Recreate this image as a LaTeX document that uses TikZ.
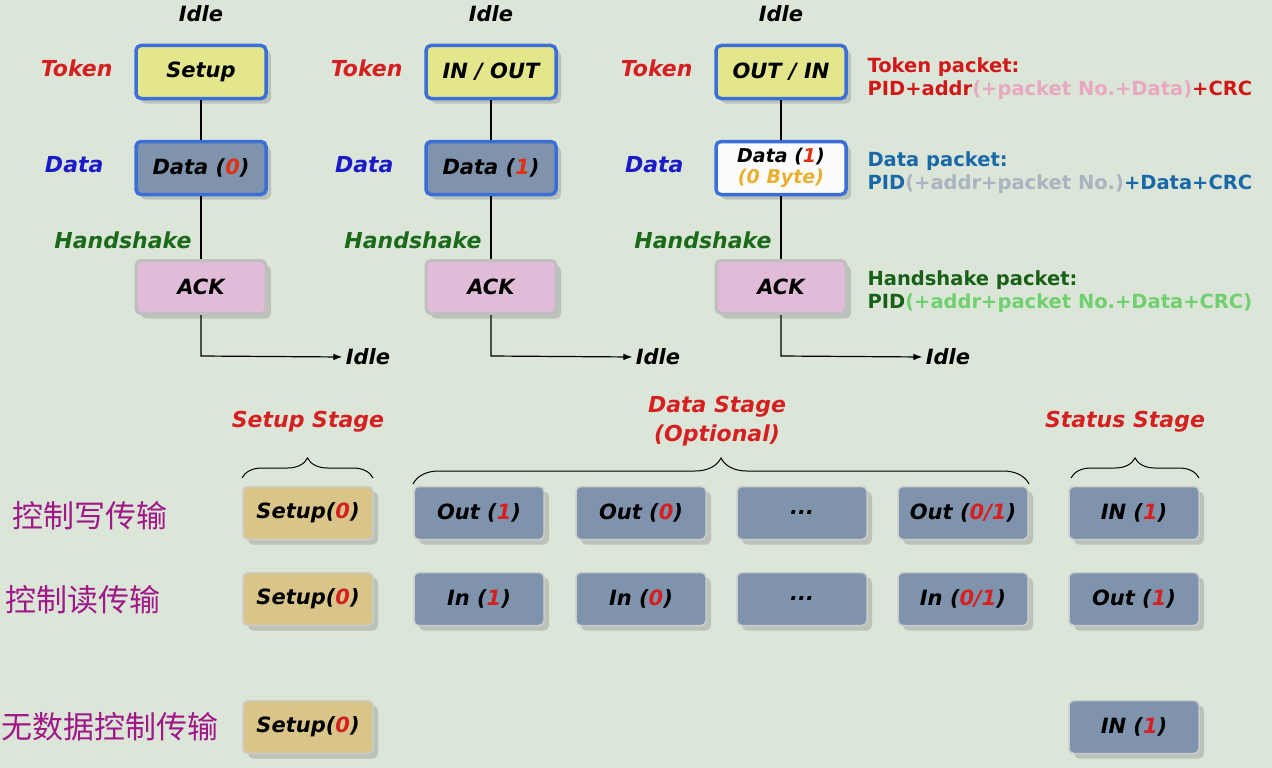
\documentclass[tikz,border=0pt]{standalone}
\usepackage{fontspec}
\setmainfont{DejaVu Sans}
\newfontfamily\cjk{Noto Sans CJK SC}
\usetikzlibrary{shadows,decorations.pathreplacing,arrows.meta}
\definecolor{bg}{HTML}{DCE6D8}
\definecolor{tokred}{HTML}{D42020}
\definecolor{datblue}{HTML}{1A1AC8}
\definecolor{hsgreen}{HTML}{1A6A1A}
\definecolor{bbord}{HTML}{3A6FD8}
\definecolor{yel}{HTML}{E4E68C}
\definecolor{bgray}{HTML}{7F93AD}
\definecolor{pink}{HTML}{E0BCD8}
\definecolor{tan}{HTML}{D9C48A}
\definecolor{pkred}{HTML}{D01818}
\definecolor{pkpink}{HTML}{E8A8C0}
\definecolor{pkblue}{HTML}{1A68A8}
\definecolor{pkgray}{HTML}{A8B4C0}
\definecolor{pkgreen}{HTML}{186018}
\definecolor{pklgreen}{HTML}{70D070}
\definecolor{num}{HTML}{E03010}
\definecolor{purp}{HTML}{A01888}
\definecolor{orng}{HTML}{E8B030}
\begin{document}
\begin{tikzpicture}[x=1pt,y=-1pt,
  every node/.style={font=\fontsize{21}{24}\selectfont\bfseries\itshape},
  box/.style={rounded corners=5pt,minimum width=130pt,minimum height=53pt,inner sep=0pt,
    drop shadow={shadow xshift=5pt,shadow yshift=-5pt,fill=gray,opacity=0.35}},
  tok/.style={box,fill=yel,draw=bbord,line width=3.5pt},
  dat/.style={box,fill=bgray,draw=bbord,line width=3.5pt},
  ack/.style={box,fill=pink,draw=gray!50,line width=3pt},
  sbox/.style={box,fill=tan,draw=gray!40,line width=1.5pt},
  gbox/.style={box,fill=bgray,draw=gray!40,line width=1.5pt},
  lab/.style={anchor=east,font=\fontsize{22}{24}\selectfont\bfseries\itshape},
  pk/.style={anchor=west,font=\fontsize{19.5}{23}\selectfont\bfseries},
  cj/.style={font=\fontsize{31}{34}\selectfont\cjk},
  st/.style={text=tokred,font=\fontsize{22}{24}\selectfont\bfseries\itshape,align=center},
  br/.style={decorate,decoration={brace,amplitude=12pt},line width=1pt}]
\useasboundingbox[fill=bg] (0,0) rectangle (1272,768);
\foreach \i/\tt/\dd in {0/Setup/0,1/{IN{ / }OUT}/1}{
  \begin{scope}[xshift=\i*290]
  \node (idle\i) at (201,14) {Idle};
  \node[lab,text=tokred] (tk\i) at (116,68) {Token};
  \node[lab,text=datblue] (dl\i) at (107,165) {Data};
  \node[lab,text=hsgreen] (hl\i) at (195,240) {Handshake};
  \node[tok] (t\i) at (201,72) {\tt};
  \node[dat] (d\i) at (201,168) {Data (\textcolor{num}{\dd})};
  \node[ack] (a\i) at (201,287) {ACK};
  \node (e\i) at (368,357) {Idle};
  \coordinate (c\i) at (201,356);
  \draw[line width=1.2pt] (t\i) -- (d\i) (d\i) -- (a\i);
  \draw[line width=1.2pt,-{Latex[length=9pt]}] (a\i) -- (c\i) -- (e\i.west);
  \end{scope}}
\begin{scope}[xshift=580]
  \node (idle2) at (201,14) {Idle};
  \node[lab,text=tokred] (tk2) at (116,68) {Token};
  \node[lab,text=datblue] (dl2) at (107,165) {Data};
  \node[lab,text=hsgreen] (hl2) at (195,240) {Handshake};
  \node[tok] (t2) at (201,72) {OUT / IN};
  \node[box,fill=white!90!bg,draw=bbord,line width=3.5pt,align=center,font=\fontsize{19}{23}\selectfont\bfseries\itshape] (d2) at (201,168) {Data (\textcolor{num}{1})\\[-2pt]\textcolor{orng}{(0 Byte)}};
  \node[ack] (a2) at (201,287) {ACK};
  \node (e2) at (368,357) {Idle};
  \coordinate (c2) at (201,356);
  \draw[line width=1.2pt] (t2) -- (d2) (d2) -- (a2);
  \draw[line width=1.2pt,-{Latex[length=9pt]}] (a2) -- (c2) -- (e2.west);
\end{scope}
\node[pk,align=left] (p1) at (864,79) {\textcolor{pkred}{Token packet:}\\\textcolor{pkred}{PID+addr}\textcolor{pkpink}{(+packet No.+Data)}\textcolor{pkred}{+CRC}};
\node[pk,align=left] (p2) at (864,173) {\textcolor{pkblue}{Data packet:}\\\textcolor{pkblue}{PID}\textcolor{pkgray}{(+addr+packet No.)}\textcolor{pkblue}{+Data+CRC}};
\node[pk,align=left] (p3) at (864,292) {\textcolor{pkgreen}{Handshake packet:}\\\textcolor{pkgreen}{PID}\textcolor{pklgreen}{(+addr+packet No.+Data+CRC)}};
% stages
\node[st] (s1) at (308,422) {Setup Stage};
\node[st,align=center,font=\fontsize{22}{29}\selectfont\bfseries\itshape] (s2) at (717,421) {Data Stage\\(Optional)};
\node[st] (s3) at (1125,422) {Status Stage};
\coordinate (b1l) at (242,478); \coordinate (b1r) at (373,478);
\coordinate (b2l) at (413,484); \coordinate (b2r) at (1029,484);
\coordinate (b3l) at (1071,478); \coordinate (b3r) at (1199,478);
\draw[br,decoration={amplitude=20pt}] (b1l) -- (b1r);
\draw[br,decoration={amplitude=26pt}] (b2l) -- (b2r);
\draw[br,decoration={amplitude=20pt}] (b3l) -- (b3r);
% rows
\node[cj,text=purp] (r1) at (90,516) {控制写传输};
\node[cj,text=purp] (r2) at (83,600) {控制读传输};
\node[cj,text=purp] (r3) at (110,727) {无数据控制传输};
\node[sbox] (w0) at (308,513) {Setup(\textcolor{tokred}{0})};
\node[gbox] (w1) at (479,513) {Out (\textcolor{tokred}{1})};
\node[gbox] (w2) at (641,513) {Out (\textcolor{tokred}{0})};
\node[gbox] (w3) at (802,513) {...};
\node[gbox] (w4) at (963,513) {Out (\textcolor{tokred}{0/1})};
\node[gbox] (w5) at (1134,513) {IN (\textcolor{tokred}{1})};
\node[sbox] (q0) at (308,599) {Setup(\textcolor{tokred}{0})};
\node[gbox] (q1) at (479,599) {In (\textcolor{tokred}{1})};
\node[gbox] (q2) at (641,599) {In (\textcolor{tokred}{0})};
\node[gbox] (q3) at (802,599) {...};
\node[gbox] (q4) at (963,599) {In (\textcolor{tokred}{0/1})};
\node[gbox] (q5) at (1134,599) {Out (\textcolor{tokred}{1})};
\node[sbox] (n0) at (308,727) {Setup(\textcolor{tokred}{0})};
\node[gbox] (n5) at (1134,727) {IN (\textcolor{tokred}{1})};
\end{tikzpicture}
\end{document}
